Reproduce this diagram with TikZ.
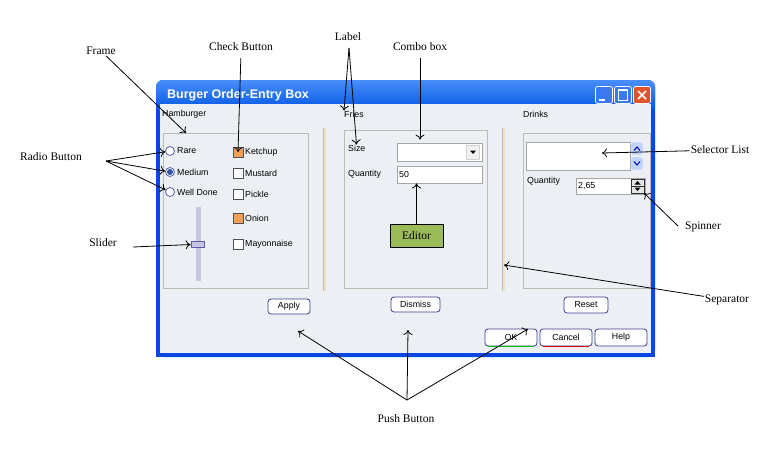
\documentclass[tikz,border=0pt]{standalone}
\usepackage{fontspec}
\usetikzlibrary{arrows.meta}
\setmainfont{Liberation Serif}
\setsansfont{Liberation Sans}

\definecolor{winblue}{RGB}{8,72,224}
\definecolor{titletop}{RGB}{72,142,250}
\definecolor{titlebot}{RGB}{0,84,227}
\definecolor{dlgbg}{RGB}{236,240,245}
\definecolor{frmgray}{RGB}{190,188,178}
\definecolor{sepbeige}{RGB}{238,228,196}
\definecolor{radiopurple}{RGB}{96,88,176}
\definecolor{radioblue}{RGB}{44,86,160}
\definecolor{chkorange}{RGB}{244,160,82}
\definecolor{chkborder}{RGB}{80,80,88}
\definecolor{slidertrack}{RGB}{200,197,222}
\definecolor{btnborder}{RGB}{60,60,140}
\definecolor{editorgreen}{RGB}{155,187,89}
\definecolor{scrollblue}{RGB}{192,212,248}
\definecolor{closered}{RGB}{224,84,44}
\definecolor{capblue}{RGB}{60,120,240}

\begin{document}
\begin{tikzpicture}[x=1pt,y=-1pt,
  >={To[length=5pt,width=9pt]},
  ui/.style={font=\fontsize{8.8}{10}\sffamily,text=black,inner sep=0pt},
  note/.style={font=\fontsize{11.5}{13}\selectfont,inner sep=1pt},
  callout/.style={line width=0.8pt},
  frm/.style={draw=frmgray,line width=0.8pt},
  radio/.style={circle,draw=radiopurple,fill=white,line width=0.8pt,minimum size=9pt,inner sep=0pt},
  chk/.style={draw=chkborder,fill=white,line width=0.8pt,minimum size=10pt,inner sep=0pt},
  field/.style={draw=gray!70,fill=white,line width=0.8pt,inner sep=0pt},
  pushbtn/.style={draw=btnborder,fill=white,rounded corners=3pt,line width=0.8pt,font=\fontsize{8.8}{10}\sffamily,inner sep=0pt},
  capbtn/.style={draw=white,rounded corners=2pt,line width=0.7pt,minimum size=17pt,inner sep=0pt},
  scrollbtn/.style={fill=scrollblue,draw=white,rounded corners=1.5pt,minimum width=12pt,minimum height=13pt,inner sep=0pt}]
% Canvas
\fill[white] (0,0) rectangle (767,448);
\useasboundingbox (0,0) rectangle (767,448);

% Window and title bar
\fill[winblue,rounded corners=7pt] (156,80) rectangle (655,357);
\fill[winblue] (156,330) rectangle (655,357);
\shade[top color=titletop,bottom color=titlebot,rounded corners=7pt] (156,80) rectangle (655,112);
\fill[dlgbg] (160,104) rectangle (651,353);
\node[anchor=west,font=\fontsize{12.5}{14}\sffamily\bfseries,text=white,inner sep=0pt] (winTitle) at (167,95) {Burger Order-Entry Box};

% Caption buttons
\node[capbtn,fill=capblue] (capMin) at (604,95) {};
\draw[white,line width=2pt] (598.5,99.5) -- (604.5,99.5);
\node[capbtn,fill=capblue] (capMax) at (623,95) {};
\draw[white,line width=0.8pt] (618.5,89.5) rectangle (627.5,100);
\draw[white,line width=1.6pt] (618.5,90) -- (627.5,90);
\node[capbtn,fill=closered] (capClose) at (642,95) {};
\draw[white,line width=1.6pt] (638,91) -- (646,99) (646,91) -- (638,99);

% Group labels
\node[ui,anchor=west] (txtBurger) at (162,114) {Hamburger};
\node[ui,anchor=west] (txtFries) at (344,114) {Fries};
\node[ui,anchor=west] (txtDrinks) at (523,114) {Drinks};

% Frames
\draw[frm] (163,133) rectangle (308,288);
\draw[frm] (344,130) rectangle (487,288);
\draw[frm] (523,133) rectangle (650,288);

% Separators
\fill[sepbeige] (323,128) rectangle (326,291);
\draw[frmgray,line width=0.8pt] (323,128) -- (323,291);
\fill[sepbeige] (502,128) rectangle (505,291);
\draw[frmgray,line width=0.8pt] (502,128) -- (502,291);

% Radio buttons
\node[radio] (rbRare) at (170,151) {};
\node[radio] (rbMedium) at (170,172) {};
\node[radio] (rbWell) at (170,192) {};
\fill[radioblue] (rbMedium) circle (3pt);
\node[ui,anchor=west] (txtRare) at (177,151) {Rare};
\node[ui,anchor=west] (txtMedium) at (177,172) {Medium};
\node[ui,anchor=west] (txtWell) at (177,192) {Well Done};

% Check buttons
\node[chk,fill=chkorange] (cbKetchup) at (238,152) {};
\node[chk] (cbMustard) at (238,173) {};
\node[chk] (cbPickle) at (238,194) {};
\node[chk,fill=chkorange] (cbOnion) at (238,218) {};
\node[chk] (cbMayo) at (238,244) {};
\node[ui,anchor=west] (txtKetchup) at (245,152) {Ketchup};
\node[ui,anchor=west] (txtMustard) at (245,173) {Mustard};
\node[ui,anchor=west] (txtPickle) at (245,194) {Pickle};
\node[ui,anchor=west] (txtOnion) at (245,218) {Onion};
\node[ui,anchor=west] (txtMayo) at (245,244) {Mayonnaise};

% Slider
\fill[slidertrack] (196,207) rectangle (201,281);
\node[draw=radiopurple,fill=slidertrack,line width=0.8pt,minimum width=13pt,minimum height=6pt,inner sep=0pt] (sldThumb) at (197.5,244.5) {};

% Fries: combo box and editor
\node[ui,anchor=west] (txtSize) at (348,148) {Size};
\node[ui,anchor=west] (txtQtyFries) at (348,174) {Quantity};
\node[field,minimum width=85pt,minimum height=18pt] (cmbSize) at (439.5,152) {};
\node[fill=gray!12,draw=gray!35,minimum width=13pt,minimum height=14pt,inner sep=0pt] (cmbDrop) at (473,152) {};
\fill[black] (470,150.5) -- (476,150.5) -- (473,154) -- cycle;
\node[field,minimum width=85pt,minimum height=17pt] (edtQty) at (439.5,174.5) {};
\node[ui,anchor=west] (txtFifty) at (399,174.5) {50};

% Drinks: selector list and spinner
\node[field,minimum width=104pt,minimum height=28pt] (lstDrinks) at (578,156) {};
\node[scrollbtn] (lstUp) at (637,148.5) {};
\draw[blue!70!black,line width=1pt] (634,150.5) -- (637,147) -- (640,150.5);
\node[scrollbtn] (lstDown) at (637,163.5) {};
\draw[blue!70!black,line width=1pt] (634,161.5) -- (637,165) -- (640,161.5);
\node[ui,anchor=west] (txtQtyDrinks) at (527,181) {Quantity};
\node[field,minimum width=69pt,minimum height=16pt] (spnField) at (610.5,186) {};
\node[ui,anchor=west] (txtSpin) at (578,186) {2,65};
\node[draw=black!80,fill=gray!20,minimum width=13pt,minimum height=14pt,inner sep=0pt] (spnQty) at (637.5,186) {};
\draw[black!80] (spnQty.west) -- (spnQty.east);
\fill[black] (634.5,184.5) -- (640.5,184.5) -- (637.5,181) -- cycle;
\fill[black] (634.5,187.5) -- (640.5,187.5) -- (637.5,191) -- cycle;

% Push buttons
\node[pushbtn,minimum width=42pt,minimum height=15pt] (btnApply) at (289,306.5) {Apply};
\node[pushbtn,minimum width=49pt,minimum height=15pt] (btnDismiss) at (415.5,304.5) {Dismiss};
\node[pushbtn,minimum width=44pt,minimum height=16pt] (btnReset) at (586,305) {Reset};
\node[pushbtn,minimum width=52pt,minimum height=17pt] (btnOK) at (511,337.5) {OK};
\node[pushbtn,minimum width=52pt,minimum height=17pt] (btnCancel) at (566,337.5) {Cancel};
\node[pushbtn,minimum width=52pt,minimum height=17pt] (btnHelp) at (621,337.5) {Help};
\draw[green!75!black,line width=1.2pt] ([xshift=3pt]btnOK.south west) -- ([xshift=-3pt]btnOK.south east);
\draw[red!85!black,line width=1.2pt] ([xshift=3pt]btnCancel.south west) -- ([xshift=-3pt]btnCancel.south east);

% Editor callout
\node[note,draw=black,fill=editorgreen,minimum width=53pt,minimum height=23pt] (lblEditor) at (416.5,235.5) {Editor};
\draw[callout,->] (lblEditor.north) -- (lblEditor.north |- edtQty.south);

% Annotations
\node[note] (lblFrame) at (101,51) {Frame};
\coordinate (tipFrame) at (186,133);
\draw[callout,->] (lblFrame) -- (tipFrame);

\node[note] (lblRadio) at (51,157) {Radio Button};
\coordinate (forkRadio) at (106,161);
\draw[callout,->] (forkRadio) -- (rbRare);
\draw[callout,->] (forkRadio) -- (rbMedium);
\draw[callout,->] (forkRadio) -- (rbWell);

\node[note] (lblSlider) at (103,243) {Slider};
\coordinate (fromSlider) at (133,247);
\draw[callout,->] (fromSlider) -- (sldThumb.west);

\node[note] (lblCheck) at (241,47) {Check Button};
\draw[callout,->,shorten <=6pt] (lblCheck.south) -- (cbKetchup.center);

\node[note] (lblLabel) at (348,37) {Label};
\coordinate (forkLabel) at (349,48);
\draw[callout,->] (forkLabel) -- (txtFries.north west);
\draw[callout,->] (forkLabel) -- (txtSize);

\node[note] (lblCombo) at (420,47) {Combo box};
\draw[callout,->,shorten <=6pt] (lblCombo.south) -- ([yshift=3pt]lblCombo.south |- cmbSize.north);

\node[note] (lblList) at (720,150) {Selector List};
\coordinate (tipList) at (602,153);
\draw[callout,->] (lblList) -- (tipList);

\node[note] (lblSpinner) at (703,227) {Spinner};
\coordinate (fromSpin) at (678,226);
\draw[callout,->] (fromSpin) -- (spnQty.south east);

\node[note] (lblSep) at (727,300) {Separator};
\coordinate (tipSep) at (504,265);
\draw[callout,->] (lblSep) -- (tipSep);

\node[note] (lblPush) at (406,419) {Push Button};
\coordinate (forkPush) at (407,400);
\coordinate (tipApply) at (298,331);
\coordinate (tipDismiss) at (408,330);
\coordinate (tipOK) at (528,329);
\draw[callout,->] (forkPush) -- (tipApply);
\draw[callout,->] (forkPush) -- (tipDismiss);
\draw[callout,->] (forkPush) -- (tipOK);
\end{tikzpicture}
\end{document}
